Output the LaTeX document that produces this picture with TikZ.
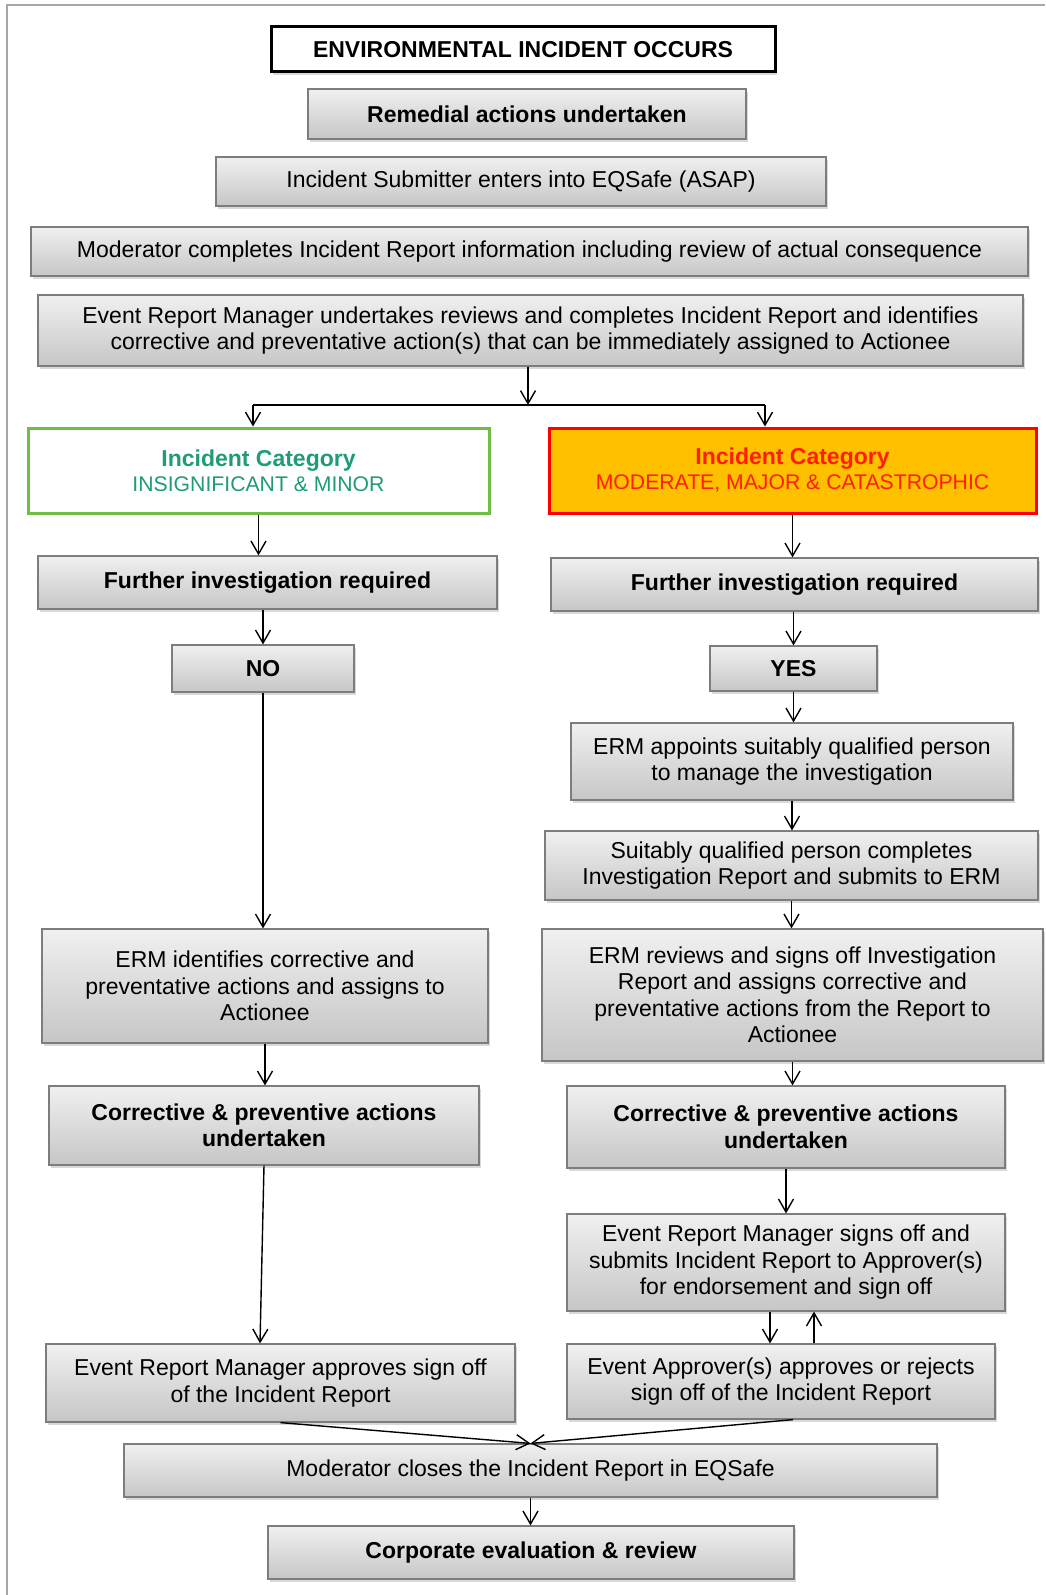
\documentclass[tikz,border=0pt]{standalone}
\usepackage{fontspec}
\setmainfont{Liberation Sans}
\usetikzlibrary{arrows.meta, shadows}

\definecolor{boxline}{RGB}{125,125,125}
\definecolor{boxtop}{RGB}{240,240,240}
\definecolor{boxbottom}{RGB}{198,198,198}
\definecolor{minorline}{RGB}{110,190,70}
\definecolor{minortext}{RGB}{30,155,120}
\definecolor{majorfill}{RGB}{255,192,0}
\definecolor{majorline}{RGB}{255,0,0}
\definecolor{majortext}{RGB}{255,30,0}

\tikzset{
	box/.style={rectangle, draw=boxline, line width=0.6pt, top color=boxtop, bottom color=boxbottom,
		drop shadow={opacity=0.3, shadow xshift=0.8pt, shadow yshift=-1.5pt},
		align=center, inner sep=2pt, font=\fontsize{11.5}{13.25}\selectfont},
	boldbox/.style={box, font=\fontsize{11.5}{13.25}\selectfont\bfseries},
	catbox/.style={rectangle, line width=1.5pt, align=center, font=\fontsize{11.5}{12.5}\selectfont},
	arr/.style={-{Straight Barb[length=6.5pt,width=7.5pt]}, line width=0.7pt},
}

\begin{document}
\begin{tikzpicture}[x=0.5pt, y=-0.5pt]
		\useasboundingbox (0,0) rectangle (1045,1595);
		\draw[gray!70, line width=0.6pt] (7,1595) -- (7,5) -- (1045,5);
		
		% top of the flow
		\node[box, draw=black, line width=1.5pt, fill=white, top color=white, bottom color=white,
			minimum width=252pt, minimum height=22.5pt, font=\fontsize{11.5}{13.25}\selectfont\bfseries]
			(occurs) at (523,49.5) {ENVIRONMENTAL INCIDENT OCCURS};
		\node[boldbox, minimum width=219pt, minimum height=25pt] (remedial) at (527,114) {Remedial actions undertaken};
		\node[box, minimum width=305pt, minimum height=24.5pt] (submitter) at (521,181.5) {Incident Submitter enters into EQSafe (ASAP)};
		\node[box, minimum width=498.5pt, minimum height=24.5pt] (moderator) at (529.5,251.5)
			{Moderator completes Incident Report information including review of actual consequence};
		\node[box, minimum width=492.5pt, minimum height=35.5pt] (review) at (530.5,330.5)
			{Event Report Manager undertakes reviews and completes Incident Report and identifies\\
			corrective and preventative action(s) that can be immediately assigned to Actionee};
		
		% categories
		\node[catbox, draw=minorline, fill=white, text=minortext, minimum width=230.5pt, minimum height=42.5pt]
			(minor) at (258.5,470.5) {\textbf{Incident Category}\\{\fontsize{10.6}{12}\selectfont INSIGNIFICANT \& MINOR}};
		\node[catbox, draw=majorline, fill=majorfill, text=majortext, minimum width=243.5pt, minimum height=42.5pt]
			(major) at (792.5,470.5) {\textbf{Incident Category}\\{\fontsize{10.6}{12}\selectfont MODERATE, MAJOR \& CATASTROPHIC}};
		
		% left branch
		\node[boldbox, minimum width=229.5pt, minimum height=26.5pt] (firL) at (267.5,582.5) {Further investigation required};
		\node[boldbox, minimum width=91pt, minimum height=23.5pt] (no) at (263,668.5) {NO};
		\node[box, minimum width=223pt, minimum height=57pt] (actL) at (265,986)
			{ERM identifies corrective and\\preventative actions and assigns to\\Actionee};
		\node[boldbox, minimum width=215pt, minimum height=39.5pt] (cpaL) at (264,1125.5)
			{Corrective \& preventive actions\\undertaken};
		\node[box, minimum width=234.5pt, minimum height=39pt] (approveL) at (280.5,1383)
			{Event Report Manager approves sign off\\of the Incident Report};
		
		% right branch
		\node[boldbox, minimum width=243.5pt, minimum height=26.5pt] (firR) at (794.5,584.5) {Further investigation required};
		\node[boldbox, minimum width=83.5pt, minimum height=22.5pt] (yes) at (793.5,668.5) {YES};
		\node[box, minimum width=221pt, minimum height=38.5pt] (appoint) at (792,761.5)
			{ERM appoints suitably qualified person\\to manage the investigation};
		\node[box, minimum width=246.5pt, minimum height=34.5pt] (qualified) at (791.5,865.5)
			{Suitably qualified person completes\\Investigation Report and submits to ERM};
		\node[box, minimum width=250.5pt, minimum height=66pt] (signoffR) at (792.5,995)
			{ERM reviews and signs off Investigation\\Report and assigns corrective and\\preventative actions from the Report to\\Actionee};
		\node[boldbox, minimum width=219pt, minimum height=41pt] (cpaR) at (786,1127)
			{Corrective \& preventive actions\\undertaken};
		\node[box, minimum width=219pt, minimum height=48.5pt] (submitR) at (786,1262.5)
			{Event Report Manager signs off and\\submits Incident Report to Approver(s)\\for endorsement and sign off};
		\node[box, minimum width=214pt, minimum height=37.5pt] (approver) at (781,1381.5)
			{Event Approver(s) approves or rejects\\sign off of the Incident Report};
		
		% closing
		\node[box, minimum width=406.5pt, minimum height=26.5pt] (close) at (530.5,1470.5)
			{Moderator closes the Incident Report in EQSafe};
		\node[boldbox, minimum width=263pt, minimum height=26.5pt] (corporate) at (531,1552.5)
			{Corporate evaluation \& review};
		
		% split into the two categories
		\coordinate (split) at (528,405);
		\coordinate (barL) at (253,405);
		\coordinate (barR) at (765,405);
		\draw[arr] (review.south -| split) -- (split);
		\draw[line width=0.7pt] (barL) -- (barR);
		\draw[arr] (barL) -- (barL |- minor.north);
		\draw[arr] (barR) -- (barR |- major.north);
		
		% straight arrows down
		\foreach \a/\b in {
			minor/firL,
			major/firR,
			yes/appoint,
			appoint/qualified,
			qualified/signoffR,
			signoffR/cpaR,
			cpaR/submitR,
			no/actL,
			actL/cpaL,
			close/corporate}{
			\draw[arr] (\a.south) -- (\a.south |- \b.north);
		}
		\draw[arr] (firL.south -| no.north) -- (no.north);
		\draw[arr] (firR.south -| yes.north) -- (yes.north);
		\draw[arr] (cpaL.south) -- ([xshift=-2pt]cpaL.south |- approveL.north);
		
		% sign off loop
		\draw[arr] ([xshift=-8pt]submitR.south) -- ([xshift=-8pt]submitR.south |- approver.north);
		\draw[arr] ([xshift=14pt]submitR.south |- approver.north) -- ([xshift=14pt]submitR.south);
		
		% both branches close
		\draw[arr] (approveL.south) -- (close.north);
		\draw[arr] ([xshift=6pt]approver.south) -- (close.north);
\end{tikzpicture}
\end{document}
